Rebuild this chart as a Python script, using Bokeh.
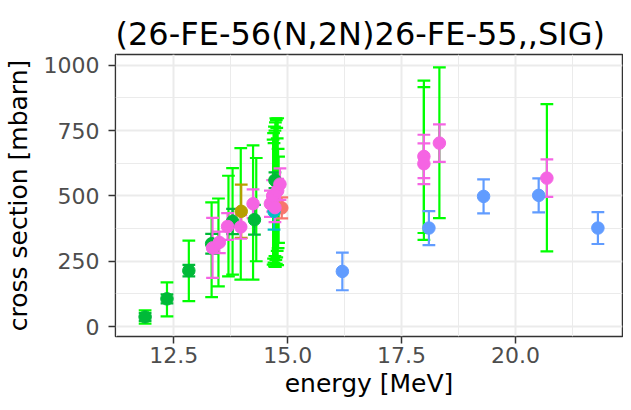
from bokeh.plotting import figure
from bokeh.models import FixedTicker, NumeralTickFormatter, Range1d, ColumnDataSource
from bokeh.embed import file_html
from bokeh.resources import INLINE

# ---- data (energy in MeV, cross section in mbarn) ----
salmon_x = [14.87]
salmon_y = [454]
salmon_e = [40]

olive_x = [13.98]
olive_y = [441]
olive_e = [102]

dgreen_x = [11.87, 12.35, 12.83, 13.33, 13.79, 14.27, 14.72]
dgreen_y = [37, 106, 214, 317, 402, 409, 560]
dgreen_e = [15, 17, 22, 38, 48, 57, 30]

teal_x = [14.70]
teal_y = [441]
teal_e = [70]

blue_x = [16.20, 18.10, 19.30, 20.51, 21.81]
blue_y = [211, 377, 498, 502, 377]
blue_e = [72, 65, 65, 65, 61]

pink_x = [13.35, 13.50, 13.68, 13.97, 14.24, 14.62, 14.67, 14.72, 14.78, 14.83, 17.99, 17.99, 18.33, 20.69]
pink_y = [301, 322, 383, 381, 470, 470, 500, 455, 520, 545, 651, 623, 702, 568]
pink_e = [115, 41, 51, 45, 55, 50, 60, 55, 45, 60, 83, 78, 72, 72]

# wide (total) uncertainty bars
lime_x = [11.87, 12.35, 12.83, 13.33, 13.48, 13.70, 13.79, 13.97, 14.24, 14.31,
          14.68, 14.69, 14.70, 14.71, 14.72, 14.73, 14.74, 14.75, 14.76, 14.77, 14.78, 14.79, 14.80,
          17.99, 17.99, 18.33, 20.69]
lime_lo = [11, 39, 97, 113, 154, 192, 199, 180, 180, 250,
           237, 260, 245, 230, 270, 228, 255, 240, 265, 290, 235, 300, 320,
           332, 358, 415, 288]
lime_hi = [62, 169, 329, 475, 490, 577, 606, 683, 693, 645,
           715, 740, 702, 765, 750, 781, 797, 790, 760, 720, 797, 680, 650,
           941, 916, 992, 851]

x_ticks = [12.5, 15.0, 17.5, 20.0]
x_minor = [11.25, 13.75, 16.25, 18.75, 21.25]
y_ticks = [0, 250, 500, 750, 1000]
y_minor = [125, 375, 625, 875]

title = "(26-FE-56(N,2N)26-FE-55,,SIG)"
xlab = "energy [MeV]"
ylab = "cross section [mbarn]"

CAP = 0.14  # half width of error-bar caps, MeV

p = figure(width=623, height=402, output_backend="svg", toolbar_location=None,
           x_range=Range1d(11.22, 22.35), y_range=Range1d(-38, 1041),
           min_border_left=109, min_border_right=1, min_border_top=54, min_border_bottom=66)

p.title.text = title
p.title.text_font = "DejaVu Sans"
p.title.text_font_size = "32px"
p.title.text_font_style = "normal"
p.title.text_color = "black"
p.title.align = "left"
p.title.vertical_align = "top"
p.title.standoff = 0

p.background_fill_color = "white"
p.border_fill_color = "white"
p.outline_line_color = "#333333"
p.outline_line_width = 1.5

for ax in (p.xaxis, p.yaxis):
    ax.axis_line_color = None
    ax.major_tick_line_color = "#333333"
    ax.major_tick_line_width = 1.5
    ax.major_tick_out = 7
    ax.major_tick_in = 0
    ax.minor_tick_line_color = None
    ax.major_label_text_font = "DejaVu Sans"
    ax.major_label_text_font_size = "22px"
    ax.major_label_text_color = "#4D4D4D"
    ax.axis_label_text_font = "DejaVu Sans"
    ax.axis_label_text_font_size = "25px"
    ax.axis_label_text_font_style = "normal"
    ax.axis_label_text_color = "black"

p.xaxis.axis_label = xlab
p.yaxis.axis_label = ylab
p.xaxis.ticker = FixedTicker(ticks=x_ticks, minor_ticks=x_minor)
p.yaxis.ticker = FixedTicker(ticks=y_ticks, minor_ticks=y_minor)
p.xaxis.formatter = NumeralTickFormatter(format="0.0")
p.xaxis.major_label_standoff = 3
p.yaxis.major_label_standoff = 9
p.xaxis.axis_label_standoff = 3
p.yaxis.axis_label_standoff = 8

p.xgrid.ticker = p.xaxis.ticker
p.ygrid.ticker = p.yaxis.ticker
p.grid.grid_line_color = "#EBEBEB"
p.grid.grid_line_width = 2
p.grid.minor_grid_line_color = "#EBEBEB"
p.grid.minor_grid_line_width = 1

LW = 2.2

def bars(xs, lo, hi, color):
    src = ColumnDataSource(dict(
        x=xs, lo=lo, hi=hi,
        xl=[v - CAP for v in xs], xr=[v + CAP for v in xs]))
    p.segment(x0="x", y0="lo", x1="x", y1="hi", source=src, line_color=color, line_width=LW)
    p.segment(x0="xl", y0="lo", x1="xr", y1="lo", source=src, line_color=color, line_width=LW)
    p.segment(x0="xl", y0="hi", x1="xr", y1="hi", source=src, line_color=color, line_width=LW)

bars(lime_x, lime_lo, lime_hi, "#00FF00")

groups = [
    (salmon_x, salmon_y, salmon_e, "#F8766D"),
    (olive_x, olive_y, olive_e, "#B79F00"),
    (dgreen_x, dgreen_y, dgreen_e, "#00BA38"),
    (teal_x, teal_y, teal_e, "#00BFC4"),
    (blue_x, blue_y, blue_e, "#619CFF"),
    (pink_x, pink_y, pink_e, "#F564E3"),
]
for xs, ys, es, c in groups:
    bars(xs, [y - e for y, e in zip(ys, es)], [y + e for y, e in zip(ys, es)], c)
for xs, ys, es, c in groups:
    p.scatter(xs, ys, size=12.5, fill_color=c, line_color=c)

open("out.html", "w").write(file_html(p, INLINE))
